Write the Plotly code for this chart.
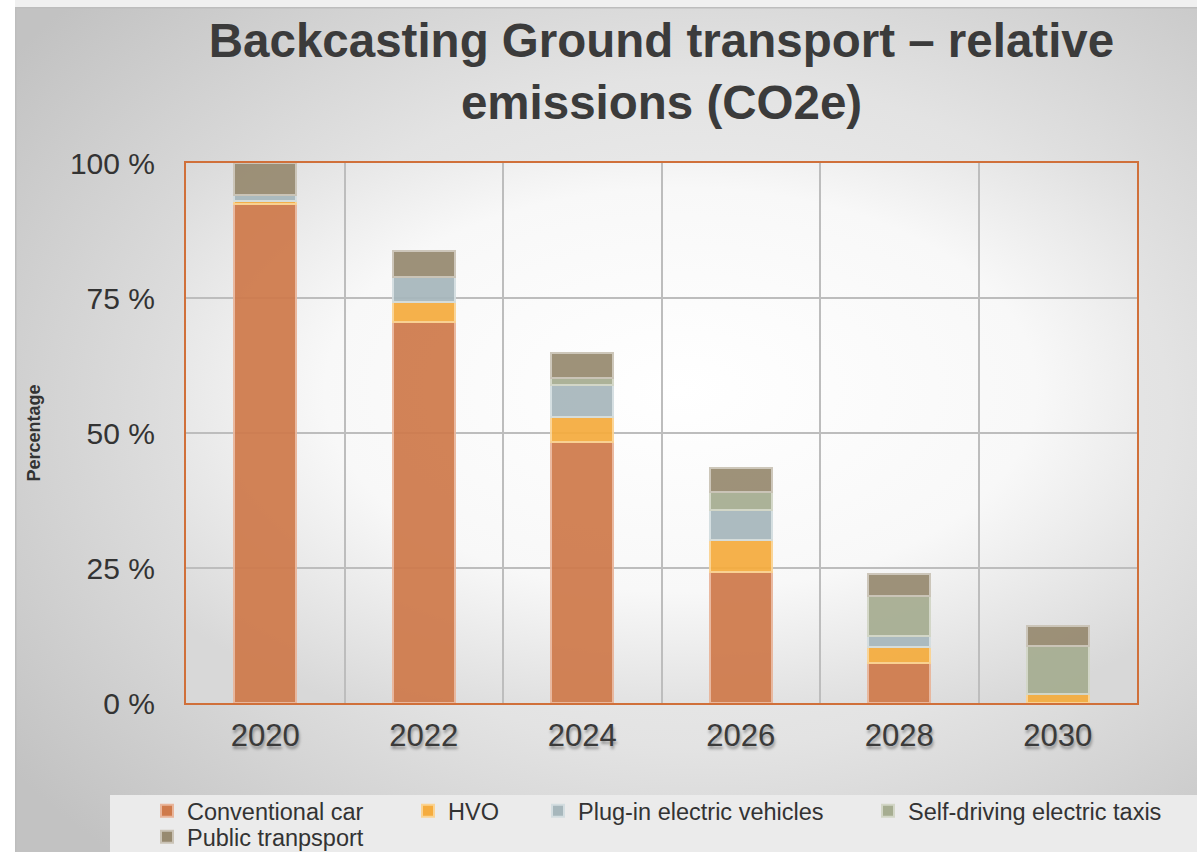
import base64
import plotly.graph_objects as go

years = ["2020", "2022", "2024", "2026", "2028", "2030"]
conventional_car = [92.5, 70.6, 48.4, 24.2, 7.5, 0.0]
hvo = [0.5, 3.6, 4.5, 6.0, 2.9, 1.7]
plug_in_ev = [1.0, 4.6, 5.9, 5.5, 2.0, 0.0]
self_driving_taxis = [0.0, 0.0, 1.4, 3.4, 7.5, 8.9]
public_transport = [6.0, 4.9, 4.6, 4.5, 4.0, 3.7]

series_names = ["Conventional car", "HVO", "Plug-in electric vehicles",
                "Self-driving electric taxis", "Public tranpsport"]
series_values = [conventional_car, hvo, plug_in_ev, self_driving_taxis, public_transport]
fill_colors = ["#CF7A4B", "#F5AC3E", "#A7B7BC", "#A6AD91", "#978A70"]
edge_colors = ["#E9B59A", "#FBD391", "#D3DDE0", "#D2D6C6", "#CAC3B6"]

y_ticks = [0, 25, 50, 75, 100]
y_tick_labels = ["0 %", "25 %", "50 %", "75 %", "100 %"]

W, H = 1197, 852
ML, MR, MT, MB = 186, 60, 163, 149
PW, PH = W - ML - MR, H - MT - MB

# legend item anchor positions (pixel: left x, vertical centre y) for each series
legend_pos = [(147, 811), (408, 811), (538, 811), (868, 811), (147, 837)]

svg = f'''<svg xmlns="http://www.w3.org/2000/svg" width="{W}" height="{H}" viewBox="0 0 {W} {H}" preserveAspectRatio="none">
<defs>
<radialGradient id="bg" cx="58%" cy="48%" r="72%">
<stop offset="0%" stop-color="#f4f4f4"/>
<stop offset="55%" stop-color="#e3e3e3"/>
<stop offset="100%" stop-color="#c2c2c2"/>
</radialGradient>
<radialGradient id="pa" cx="52%" cy="42%" r="68%">
<stop offset="0%" stop-color="#ffffff"/>
<stop offset="55%" stop-color="#f8f8f8"/>
<stop offset="100%" stop-color="#d8d8d8"/>
</radialGradient>
</defs>
<rect x="0" y="0" width="{W}" height="{H}" fill="#ffffff"/>
<rect x="15" y="0" width="{W-15}" height="7" fill="#f0f0f0"/>
<rect x="15" y="7" width="{W-15}" height="{H-7}" fill="url(#bg)"/>
<rect x="15" y="7" width="{W-15}" height="1.5" fill="#bdbdbd"/>
<rect x="15" y="7" width="1.5" height="{H-7}" fill="#bdbdbd"/>
<rect x="{ML}" y="{MT}" width="{PW}" height="{PH}" fill="url(#pa)"/>
<rect x="110" y="795" width="{W-110}" height="{H-795}" fill="#ebebeb"/>
</svg>'''
svg_uri = "data:image/svg+xml;base64," + base64.b64encode(svg.encode()).decode()

fig = go.Figure()
legend_layouts = {}
for i, (name, vals, fc, ec) in enumerate(zip(series_names, series_values, fill_colors, edge_colors)):
    lg = "legend" if i == 0 else f"legend{i + 1}"
    fig.add_trace(go.Bar(
        x=years, y=vals, name=name,
        marker=dict(color=fc, line=dict(color=ec, width=2), opacity=0.93),
        width=0.39,
        legend=lg,
    ))
    px, py = legend_pos[i]
    legend_layouts[lg] = dict(
        orientation="h",
        xref="container", yref="container",
        x=px / W, xanchor="left",
        y=1 - py / H, yanchor="middle",
        font=dict(size=23.5, color="#333333"),
        bgcolor="rgba(0,0,0,0)",
        itemclick=False, itemdoubleclick=False,
        tracegroupgap=0,
    )

fig.update_layout(
    width=W, height=H,
    autosize=False,
    barmode="stack",
    margin=dict(l=ML, r=MR, t=MT, b=MB, autoexpand=False),
    paper_bgcolor="rgba(0,0,0,0)",
    plot_bgcolor="rgba(0,0,0,0)",
    font=dict(family="Liberation Sans, Arial, sans-serif", color="#333333"),
    title=dict(
        text="Backcasting Ground transport – relative<br>emissions (CO2e)",
        x=(ML + PW / 2) / W, xanchor="center",
        y=1 - 57 / H, yanchor="middle",
        font=dict(size=47.5, color="#3b3b3b", family="Liberation Sans, Arial, sans-serif", weight="bold"),
    ),
    showlegend=True,
    images=[dict(
        source=svg_uri, xref="paper", yref="paper",
        x=-ML / PW, y=(PH + MT) / PH,
        sizex=W / PW, sizey=H / PH,
        sizing="stretch", xanchor="left", yanchor="top",
        layer="below",
    )],
    **legend_layouts,
)

fig.update_xaxes(
    type="category",
    tickson="boundaries",
    showgrid=True, gridcolor="#bdbdbd", gridwidth=2,
    showline=True, linecolor="#D0703A", linewidth=2, mirror=True,
    ticks="",
    tickfont=dict(size=31, color="#3a3a3a", shadow="1px 3px 3px rgba(0,0,0,0.35)"),
    ticklabelstandoff=4,
)
fig.update_yaxes(
    range=[0, 100],
    tickvals=y_ticks, ticktext=y_tick_labels,
    showgrid=True, gridcolor="#bdbdbd", gridwidth=2,
    showline=True, linecolor="#D0703A", linewidth=2, mirror=True,
    zeroline=False,
    ticks="",
    tickfont=dict(size=30, color="#333333"),
    ticklabelstandoff=23,
    title=dict(text="Percentage", font=dict(size=18, color="#333333", weight="bold"), standoff=25),
)

fig.write_html("out.html", config={"displayModeBar": False},
               post_script="document.body.style.margin='0';")
